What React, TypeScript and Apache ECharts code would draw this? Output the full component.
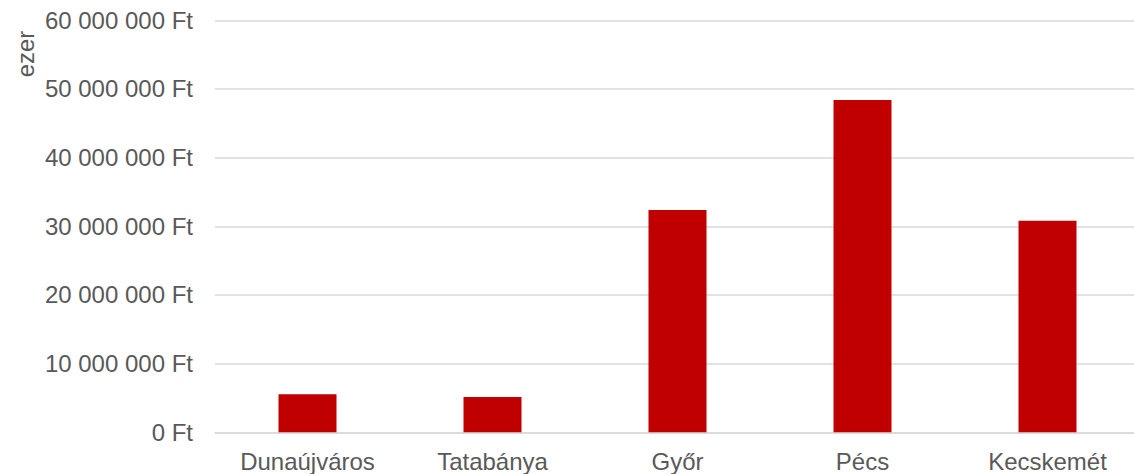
import React, { useEffect, useRef } from "react";
import * as echarts from "echarts";

const categories = ["Dunaújváros", "Tatabánya", "Győr", "Pécs", "Kecskemét"];
const values = [5530000, 5140000, 32370000, 48400000, 30800000];
const yTicks = { min: 0, max: 60000000, interval: 10000000 };
const yUnitLabel = "ezer";

const fmt = (v: number) =>
  String(Math.round(v)).replace(/\B(?=(\d{3})+(?!\d))/g, " ") + " Ft";

export default function App() {
  const ref = useRef<HTMLDivElement>(null);
  useEffect(() => {
    document.body.style.overflow = "hidden";
    if (!ref.current) return;
    const chart = echarts.init(ref.current, undefined, { renderer: "svg" });
    const font = "Liberation Sans, Arial, sans-serif";
    chart.setOption({
      animation: false,
      grid: { left: 215, right: 0, top: 20.3, bottom: 41.7, containLabel: false },
      graphic: [
        {
          type: "text",
          x: 25,
          y: 54,
          rotation: Math.PI / 2,
          style: {
            text: yUnitLabel,
            fontSize: 24,
            fontFamily: font,
            fill: "#595959",
            textAlign: "center",
            textVerticalAlign: "middle",
          },
        },
      ],
      xAxis: {
        type: "category",
        data: categories,
        axisLine: { show: true, lineStyle: { color: "#d9d9d9", width: 1.5 } },
        axisTick: { show: false },
        axisLabel: { color: "#595959", fontSize: 24, fontFamily: font, margin: 17 },
      },
      yAxis: {
        type: "value",
        min: yTicks.min,
        max: yTicks.max,
        interval: yTicks.interval,
        axisLine: { show: false },
        axisTick: { show: false },
        splitLine: { lineStyle: { color: "#d9d9d9", width: 1.5 } },
        axisLabel: {
          color: "#595959",
          fontSize: 24,
          fontFamily: font,
          margin: 22,
          formatter: fmt,
        },
      },
      series: [
        {
          type: "bar",
          data: values,
          barWidth: 58,
          itemStyle: { color: "#C00000" },
        },
      ],
    });
    return () => chart.dispose();
  }, []);
  return (
    <div
      ref={ref}
      style={{ position: "fixed", left: 0, top: 0, width: 1140, height: 474, background: "#fff" }}
    />
  );
}
